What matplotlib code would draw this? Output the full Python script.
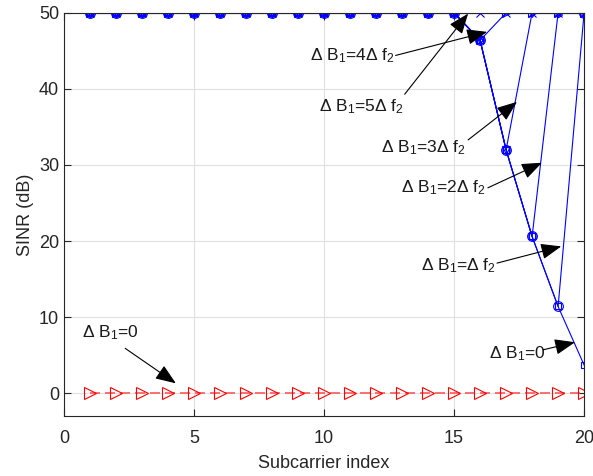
import numpy as np
import matplotlib
matplotlib.use("Agg")
import matplotlib.pyplot as plt

plt.rcParams["font.family"] = ["Liberation Sans", "DejaVu Sans"]
plt.rcParams["mathtext.fontset"] = "custom"
plt.rcParams["mathtext.rm"] = "Liberation Sans"
plt.rcParams["mathtext.default"] = "regular"

# Data
subcarrier = [1, 2, 3, 4, 5, 6, 7, 8, 9, 10, 11, 12, 13, 14, 15, 16, 17, 18, 19, 20]

sinr_db0 = [50, 50, 50, 50, 50, 50, 50, 50, 50, 50, 50, 50, 50, 50, 50, 46.4, 32.0, 20.6, 11.4, 3.7]
sinr_db1 = [50, 50, 50, 50, 50, 50, 50, 50, 50, 50, 50, 50, 50, 50, 50, 46.4, 32.0, 20.6, 11.4, 50]
sinr_db2 = [50, 50, 50, 50, 50, 50, 50, 50, 50, 50, 50, 50, 50, 50, 50, 46.4, 32.0, 20.6, 50, 50]
sinr_db3 = [50, 50, 50, 50, 50, 50, 50, 50, 50, 50, 50, 50, 50, 50, 50, 46.4, 32.0, 50, 50, 50]
sinr_db4 = [50, 50, 50, 50, 50, 50, 50, 50, 50, 50, 50, 50, 50, 50, 50, 46.4, 50, 50, 50, 50]
sinr_db5 = [50, 50, 50, 50, 50, 50, 50, 50, 50, 50, 50, 50, 50, 50, 50, 50, 50, 50, 50, 50]
sinr_ref = [0, 0, 0, 0, 0, 0, 0, 0, 0, 0, 0, 0, 0, 0, 0, 0, 0, 0, 0, 0]

blue_series = [sinr_db0, sinr_db1, sinr_db2, sinr_db3, sinr_db4, sinr_db5]
blue_markers = ["s", "o", "h", "v", ">", "x"]
blue_msize = [5, 7, 6, 6, 6, 6]

# Annotations: label, text position, arrow tail, arrow tip
ann_labels = [
    "Δ B$_1$=4Δ f$_2$",
    "Δ B$_1$=5Δ f$_2$",
    "Δ B$_1$=3Δ f$_2$",
    "Δ B$_1$=2Δ f$_2$",
    "Δ B$_1$=Δ f$_2$",
    "Δ B$_1$=0",
    "Δ B$_1$=0",
]
ann_text_xy = [(9.46, 43.8), (9.81, 37.0), (12.19, 31.7), (12.96, 26.4),
               (13.73, 16.2), (16.35, 4.6), (0.69, 7.4)]
ann_tail = [(12.75, 44.4), (13.1, 39.3), (15.54, 33.3), (16.3, 27.0),
            (16.65, 17.1), (18.42, 5.7), (2.35, 5.9)]
ann_tip = [(16.27, 47.5), (15.54, 49.9), (17.42, 38.3), (18.38, 30.3),
           (19.12, 19.3), (19.65, 6.7), (4.3, 1.3)]

fig = plt.figure(figsize=(5.93, 4.76), dpi=100)
ax = fig.add_axes([0.108, 0.126, 0.877, 0.847])

for vals, mk, ms in zip(blue_series, blue_markers, blue_msize):
    ax.plot(subcarrier, vals, color="b", lw=0.8, marker=mk, markersize=ms,
            markerfacecolor="none", markeredgecolor="b", markeredgewidth=0.8)

ax.plot(subcarrier, sinr_ref, color=(1, 0.35, 0.35), lw=1.2, linestyle=(0, (6, 3)),
        marker=">", markersize=8, markerfacecolor="none",
        markeredgecolor="r", markeredgewidth=0.8)

for label, txy, tail, tip in zip(ann_labels, ann_text_xy, ann_tail, ann_tip):
    ax.text(txy[0], txy[1], label, fontsize=12.5, ha="left", va="baseline",
            color=(0.1, 0.1, 0.1))
    ax.annotate("", xy=tip, xytext=tail,
                arrowprops=dict(arrowstyle="-|>,head_length=0.9,head_width=0.35",
                                color="k", lw=0.8, shrinkA=0, shrinkB=0,
                                mutation_scale=14))

ax.set_xlim(0, 20)
ax.set_ylim(-3, 50)
ax.set_xticks([0, 5, 10, 15, 20])
ax.set_yticks([0, 10, 20, 30, 40, 50])
ax.grid(True, color=(0.88, 0.88, 0.88), lw=0.8)
ax.set_axisbelow(True)
ax.tick_params(direction="in", top=True, right=True, labelsize=13,
               colors=(0.15, 0.15, 0.15), length=5)
ax.tick_params(axis="x", pad=10)
for sp in ax.spines.values():
    sp.set_color((0.15, 0.15, 0.15))
    sp.set_linewidth(0.8)

ax.set_xlabel("Subcarrier index", fontsize=13, color=(0.15, 0.15, 0.15), labelpad=6)
ax.set_ylabel("SINR (dB)", fontsize=13, color=(0.15, 0.15, 0.15))

fig.savefig("out.png", dpi=100)
